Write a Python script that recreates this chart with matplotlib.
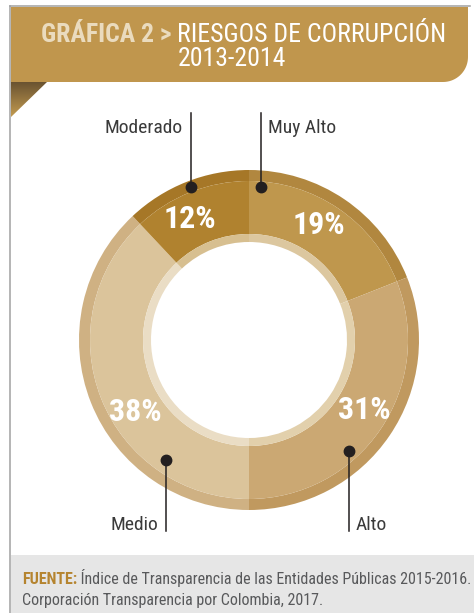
import numpy as np
import matplotlib
matplotlib.use('Agg')
import matplotlib.pyplot as plt
from matplotlib import font_manager as fm
from matplotlib.patches import Polygon, Rectangle
from matplotlib.colors import LinearSegmentedColormap

# datos
categorias = ['Muy Alto', 'Alto', 'Medio', 'Moderado']
porcentajes = [19, 31, 38, 12]

color_principal = ['#BF974D', '#CBA873', '#DBC49B', '#B0822F']
color_borde = ['#B1873F', '#C0995F', '#CFB183', '#A67727']
color_interior = ['#DCC79F', '#E2D0AC', '#EADDC5', '#D7BF90']

# puntos de las etiquetas (angulo en grados, radio en px)
punto_ang = [85.5, -48, -124.7, 110.8]
punto_r = [153.5, 149.4, 146, 163.6]
# giro de los porcentajes respecto al centro de cada sector (grados)
giro_pct = [3, 3, 11, 4.5]

W, H = 474, 613
instaladas = {f.name for f in fm.fontManager.ttflist}
ESTRECHA = 'Roboto Condensed' if 'Roboto Condensed' in instaladas else 'Liberation Sans Narrow'

fig = plt.figure(figsize=(W / 100, H / 100), dpi=100)
ax = fig.add_axes([0, 0, 1, 1])

cx, cy = 249, H - 340

# dona: borde exterior, banda principal, anillo claro interior
ax.pie(porcentajes, radius=170, center=(cx, cy), startangle=90, counterclock=False,
       colors=color_borde, wedgeprops=dict(width=11, linewidth=0))
_, _, pct = ax.pie(porcentajes, radius=159, center=(cx, cy), startangle=90, counterclock=False,
                   colors=color_principal, wedgeprops=dict(width=53, linewidth=0),
                   autopct=lambda p: f'{p:.0f}%', pctdistance=0.845,
                   textprops=dict(color='white', fontsize=23, fontweight='bold', family=ESTRECHA))
ax.pie(porcentajes, radius=106, center=(cx, cy), startangle=90, counterclock=False,
       colors=color_interior, wedgeprops=dict(width=8, linewidth=0))

for t, g in zip(pct, giro_pct):
    x, y = t.get_position()
    a = np.arctan2(y - cy, x - cx) + np.radians(g)
    d = np.hypot(x - cx, y - cy)
    t.set_position((cx + d * np.cos(a), cy + d * np.sin(a)))

# marcos grises
ax.plot([10, 10], [0, H - 6], color='#A0A0A0', lw=1.1, zorder=3)
ax.plot([10, 470], [H - 6, H - 6], color='#A0A0A0', lw=1.1, zorder=3)

# encabezado
r = 25
arco = np.linspace(0, -np.pi / 2, 20)
arriba, abajo, izq, der = H - 7, H - 82, 11, 468
pts = [(izq, arriba), (der, arriba)]
pts += [(der - r + r * np.cos(a), abajo + r + r * np.sin(a)) for a in arco]
pts += [(izq, abajo)]
ax.add_patch(Polygon(pts, closed=True, facecolor='#C0964D', edgecolor='none', zorder=2))

# pliegue con degradado
grad = np.linspace(0, 1, 60).reshape(-1, 1)
cmap = LinearSegmentedColormap.from_list('pliegue', ['#6A5331', '#C39B50'])
im = ax.imshow(grad, extent=(11, 47, H - 117, H - 82), origin='upper', cmap=cmap,
               aspect='auto', zorder=2)
tri = Polygon([(11, H - 82), (47, H - 82), (11, H - 117)], closed=True,
              facecolor='none', edgecolor='none')
ax.add_patch(tri)
im.set_clip_path(tri)

ax.text(172, H - 42, 'GRÁFICA 2 >', ha='right', va='baseline', color='#EADBBE',
        fontsize=18.5, fontweight='bold', family=ESTRECHA, zorder=4)
ax.text(177, H - 42, 'RIESGOS DE CORRUPCIÓN', ha='left', va='baseline', color='white',
        fontsize=18.5, family=ESTRECHA, zorder=4)
ax.text(178, H - 66, '2013-2014', ha='left', va='baseline', color='white',
        fontsize=18.5, family=ESTRECHA, zorder=4)

# etiquetas con puntos y lineas
for nombre, ang, rr in zip(categorias, punto_ang, punto_r):
    px = cx + rr * np.cos(np.radians(ang))
    py = cy + rr * np.sin(np.radians(ang))
    arriba_lbl = py > cy
    y_fin = H - 113 if arriba_lbl else H - 531
    y_txt = H - 133 if arriba_lbl else H - 530
    ax.plot([px, px], [py, y_fin], color='#231F20', lw=1.1, zorder=5)
    ax.plot(px, py, 'o', ms=7.5, color='#231F20', zorder=6)
    derecha = px > cx
    ax.text(px + (7 if derecha else -8), y_txt, nombre, ha='left' if derecha else 'right',
            va='baseline', color='#3A3A3A', fontsize=14, family=ESTRECHA, zorder=6)

# fuente
ax.add_patch(Rectangle((11, 0), W - 11, H - 555, facecolor='#E6E6E6', edgecolor='none', zorder=1))
t1 = ax.text(22, H - 584, 'FUENTE:', ha='left', va='baseline', color='#B5842F',
             fontsize=11.5, fontweight='bold', family=ESTRECHA, zorder=4)
ax.annotate(' Índice de Transparencia de las Entidades Públicas 2015-2016.',
            xy=(1, 0), xycoords=t1, ha='left', va='bottom', color='#58595B',
            fontsize=11.5, family=ESTRECHA, zorder=4)
ax.text(22, H - 605, 'Corporación Transparencia por Colombia, 2017.', ha='left',
        va='baseline', color='#58595B', fontsize=11.5, family=ESTRECHA, zorder=4)

ax.set_xlim(0, W)
ax.set_ylim(0, H)
ax.axis('off')

fig.savefig('out.png', dpi=100)
